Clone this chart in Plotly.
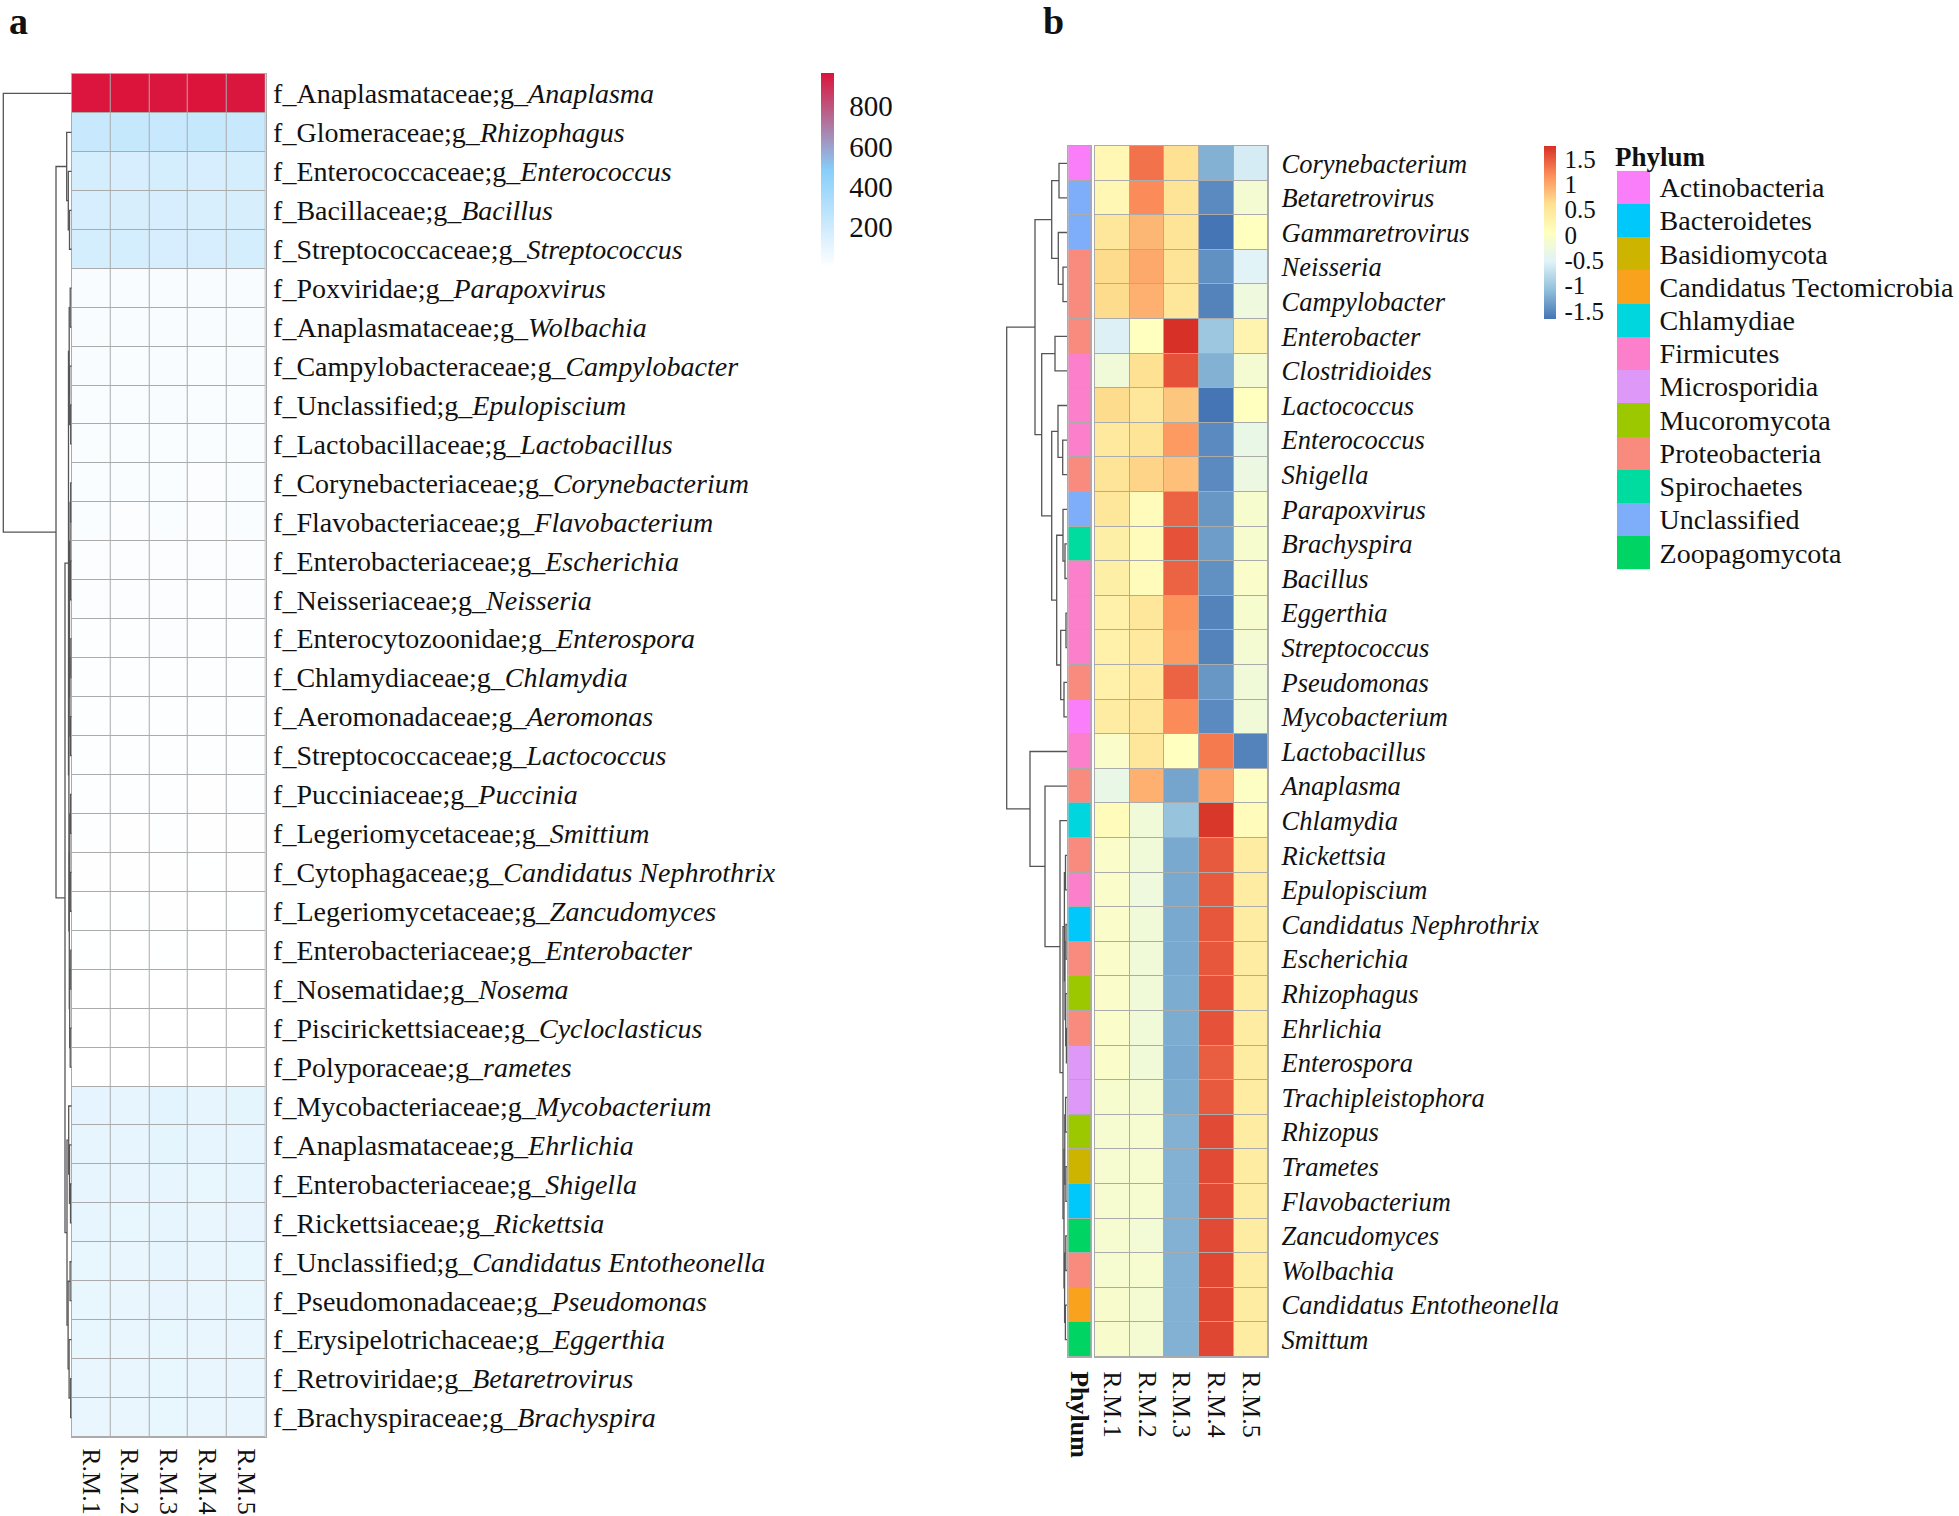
import plotly.graph_objects as go

W, H = 1959, 1516
FONT = "Liberation Serif"
TXT = "#111111"
BORDER = "#ABABAB"
DCOL = "#555555"

# ---------------- Panel a data ----------------
a_samples = ["R.M.1", "R.M.2", "R.M.3", "R.M.4", "R.M.5"]
a_family = ["Anaplasmataceae", "Glomeraceae", "Enterococcaceae", "Bacillaceae", "Streptococcaceae",
            "Poxviridae", "Anaplasmataceae", "Campylobacteraceae", "Unclassified", "Lactobacillaceae",
            "Corynebacteriaceae", "Flavobacteriaceae", "Enterobacteriaceae", "Neisseriaceae", "Enterocytozoonidae",
            "Chlamydiaceae", "Aeromonadaceae", "Streptococcaceae", "Pucciniaceae", "Legeriomycetaceae",
            "Cytophagaceae", "Legeriomycetaceae", "Enterobacteriaceae", "Nosematidae", "Piscirickettsiaceae",
            "Polyporaceae", "Mycobacteriaceae", "Anaplasmataceae", "Enterobacteriaceae", "Rickettsiaceae",
            "Unclassified", "Pseudomonadaceae", "Erysipelotrichaceae", "Retroviridae", "Brachyspiraceae"]
a_genus = ["Anaplasma", "Rhizophagus", "Enterococcus", "Bacillus", "Streptococcus",
           "Parapoxvirus", "Wolbachia", "Campylobacter", "Epulopiscium", "Lactobacillus",
           "Corynebacterium", "Flavobacterium", "Escherichia", "Neisseria", "Enterospora",
           "Chlamydia", "Aeromonas", "Lactococcus", "Puccinia", "Smittium",
           "Candidatus Nephrothrix", "Zancudomyces", "Enterobacter", "Nosema", "Cycloclasticus",
           "rametes", "Mycobacterium", "Ehrlichia", "Shigella", "Rickettsia",
           "Candidatus Entotheonella", "Pseudomonas", "Eggerthia", "Betaretrovirus", "Brachyspira"]
a_values = [
    [962, 965, 961, 964, 959],
    [228, 232, 226, 230, 225],
    [172, 168, 174, 166, 170],
    [166, 162, 168, 160, 164],
    [172, 170, 166, 168, 171],
    [32, 30, 33, 29, 31],
    [30, 28, 31, 29, 30],
    [28, 27, 30, 26, 29],
    [27, 26, 28, 25, 27],
    [25, 24, 26, 23, 25],
    [24, 22, 25, 21, 23],
    [22, 21, 23, 20, 22],
    [20, 19, 21, 18, 20],
    [19, 18, 19, 17, 18],
    [17, 16, 18, 15, 17],
    [16, 15, 16, 14, 15],
    [14, 13, 15, 12, 14],
    [13, 12, 13, 11, 12],
    [11, 10, 12, 9, 11],
    [10, 9, 10, 8, 9],
    [9, 8, 9, 7, 8],
    [7, 6, 8, 5, 7],
    [6, 5, 6, 4, 5],
    [5, 4, 5, 3, 4],
    [4, 3, 4, 3, 4],
    [3, 3, 4, 3, 3],
    [108, 104, 110, 102, 106],
    [104, 100, 106, 98, 102],
    [100, 97, 102, 95, 99],
    [98, 95, 100, 93, 97],
    [96, 93, 98, 92, 95],
    [95, 92, 97, 91, 94],
    [94, 91, 96, 90, 93],
    [93, 90, 95, 89, 92],
    [92, 89, 94, 88, 91],
]
# row dendrogram of panel a: [height, left, right]; ints are row indices
a_tree = [68.4, 0,
          [15.7,
           [5.0, 1, [3.4, 2, [2.2, 3, 4]]],
           [6.7,
            [3.2,
             [2.5, [1.5, 5, 6], [2.0, 7, [1.0, 8, 9]]],
             [2.8,
              [2.2, [1.6, [1.0, 10, 11], [1.2, 12, 13]], [1.8, [0.8, 14, 15], [1.3, 16, 17]]],
              [2.4, [1.9, [1.1, 18, 19], [1.4, 20, 21]], [2.0, [0.9, 22, 23], [1.5, 24, 25]]]]],
            [4.7,
             [3.0, 26, [2.2, 27, [1.2, 28, 29]]],
             [3.6, [1.6, 30, 31], [2.6, 32, [1.0, 33, 34]]]]]]]
a_ticks = [200, 400, 600, 800]

# ---------------- Panel b data ----------------
b_samples = ["R.M.1", "R.M.2", "R.M.3", "R.M.4", "R.M.5"]
b_genus = ["Corynebacterium", "Betaretrovirus", "Gammaretrovirus", "Neisseria", "Campylobacter",
           "Enterobacter", "Clostridioides", "Lactococcus", "Enterococcus", "Shigella",
           "Parapoxvirus", "Brachyspira", "Bacillus", "Eggerthia", "Streptococcus",
           "Pseudomonas", "Mycobacterium", "Lactobacillus", "Anaplasma", "Chlamydia",
           "Rickettsia", "Epulopiscium", "Candidatus Nephrothrix", "Escherichia", "Rhizophagus",
           "Ehrlichia", "Enterospora", "Trachipleistophora", "Rhizopus", "Trametes",
           "Flavobacterium", "Zancudomyces", "Wolbachia", "Candidatus Entotheonella", "Smittum"]
b_phylum = ["Actinobacteria", "Unclassified", "Unclassified", "Proteobacteria", "Proteobacteria",
            "Proteobacteria", "Firmicutes", "Firmicutes", "Firmicutes", "Proteobacteria",
            "Unclassified", "Spirochaetes", "Firmicutes", "Firmicutes", "Firmicutes",
            "Proteobacteria", "Actinobacteria", "Firmicutes", "Proteobacteria", "Chlamydiae",
            "Proteobacteria", "Firmicutes", "Bacteroidetes", "Proteobacteria", "Mucoromycota",
            "Proteobacteria", "Microsporidia", "Microsporidia", "Mucoromycota", "Basidiomycota",
            "Bacteroidetes", "Zoopagomycota", "Proteobacteria", "Candidatus Tectomicrobia", "Zoopagomycota"]
b_values = [
    [0.20, 1.35, 0.60, -1.20, -0.60],
    [0.20, 1.20, 0.55, -1.50, -0.15],
    [0.50, 0.90, 0.55, -1.66, 0.05],
    [0.65, 1.00, 0.55, -1.45, -0.50],
    [0.65, 0.95, 0.50, -1.55, -0.25],
    [-0.55, 0.05, 1.76, -1.00, 0.25],
    [-0.20, 0.60, 1.55, -1.20, -0.15],
    [0.65, 0.50, 0.80, -1.66, 0.05],
    [0.45, 0.55, 1.10, -1.50, -0.35],
    [0.55, 0.70, 0.85, -1.50, -0.30],
    [0.50, 0.10, 1.45, -1.40, -0.10],
    [0.35, 0.10, 1.55, -1.35, -0.10],
    [0.35, 0.10, 1.45, -1.45, -0.05],
    [0.30, 0.50, 1.15, -1.55, -0.10],
    [0.30, 0.45, 1.10, -1.55, -0.15],
    [0.30, 0.45, 1.45, -1.40, -0.20],
    [0.40, 0.50, 1.20, -1.50, -0.20],
    [-0.05, 0.50, 0.05, 1.30, -1.55],
    [-0.35, 0.95, -1.30, 1.05, 0.00],
    [0.10, -0.20, -1.05, 1.72, 0.10],
    [-0.05, -0.20, -1.26, 1.50, 0.40],
    [-0.05, -0.25, -1.26, 1.50, 0.40],
    [-0.05, -0.20, -1.26, 1.52, 0.40],
    [-0.05, -0.20, -1.26, 1.52, 0.40],
    [-0.05, -0.20, -1.24, 1.55, 0.40],
    [-0.05, -0.20, -1.24, 1.55, 0.40],
    [-0.05, -0.20, -1.26, 1.48, 0.40],
    [-0.10, -0.15, -1.24, 1.50, 0.40],
    [-0.12, -0.12, -1.20, 1.60, 0.40],
    [-0.12, -0.12, -1.20, 1.60, 0.40],
    [-0.12, -0.12, -1.20, 1.60, 0.40],
    [-0.12, -0.18, -1.20, 1.60, 0.40],
    [-0.12, -0.12, -1.20, 1.62, 0.40],
    [-0.08, -0.15, -1.20, 1.62, 0.40],
    [-0.08, -0.15, -1.20, 1.62, 0.40],
]
b_tree = [60.3,
          [32.0,
           [15.3, [8.0, 0, 1], [8.7, 2, [4.0, 3, 4]]],
           [25.3, [12.0, 5, 6],
            [15.3, [9.0, 7, [4.3, 8, 9]],
             [10.3, [4.0, 10, [2.0, 11, 12]], [6.3, [1.0, 13, 14], [3.0, 15, 16]]]]]],
          [37.0, 17,
           [22.0, 18,
            [7.0, 19,
             [4.0,
              [2.6, [1.5, 20, 21], [2.0, [1.0, 22, 23], [1.3, 24, [0.6, 25, 26]]]],
              [3.0, [2.2, [1.4, 27, 28], [1.1, 29, 30]], [2.4, [1.2, 31, 32], [1.6, 33, 34]]]]]]]]
phylum_names = ["Actinobacteria", "Bacteroidetes", "Basidiomycota", "Candidatus Tectomicrobia",
                "Chlamydiae", "Firmicutes", "Microsporidia", "Mucoromycota", "Proteobacteria",
                "Spirochaetes", "Unclassified", "Zoopagomycota"]
phylum_colors = ["#FA7EFA", "#00C8FA", "#CDB400", "#F9A21E", "#00D6DE", "#FB7FCA",
                 "#DE98F8", "#9CC800", "#F98A7E", "#00DBA0", "#7EAEFA", "#00D462"]
b_ticks = [-1.5, -1, -0.5, 0, 0.5, 1, 1.5]
b_ticktext = ["-1.5", "-1", "-0.5", "0", "0.5", "1", "1.5"]


# ---------------- helpers ----------------
def px_x(p):
    return p / W


def px_y(p):
    return 1 - p / H


def dendro(tree):
    xs, ys = [], []

    def rec(n):
        if isinstance(n, int):
            return float(n), 0.0
        h, l, r = n
        yl, hl = rec(l)
        yr, hr = rec(r)
        xs.extend([hl, h, h, hr, None])
        ys.extend([yl, yl, yr, yr, None])
        return (yl + yr) / 2, h

    rec(tree)
    return xs, ys


def discrete_scale(colors):
    n = len(colors)
    sc = []
    for i, c in enumerate(colors):
        sc.append([i / n, c])
        sc.append([(i + 1) / n, c])
    return sc


fa_rows = dict(family=FONT, size=28, color=TXT)
fa_cols = dict(family=FONT, size=26, color=TXT)
fb_rows = dict(family=FONT, size=26.5, color=TXT)
fb_cols = dict(family=FONT, size=26, color=TXT)

fig = go.Figure()

# Panel a heatmap
na = len(a_genus)
a_labels = ["f_%s;g_<i>%s</i>" % (f, g) for f, g in zip(a_family, a_genus)]
fig.add_trace(go.Heatmap(
    z=a_values, x=list(range(len(a_samples))), y=list(range(na)),
    colorscale=[[0, "#FFFFFF"], [0.5, "#87CEFA"], [1, "#DC143C"]],
    xgap=1, ygap=1, xaxis="x", yaxis="y", hoverinfo="skip",
    colorbar=dict(x=px_x(821), xanchor="left", y=px_y(73), yanchor="top",
                  len=194, lenmode="pixels", thickness=13, thicknessmode="pixels",
                  outlinewidth=0, xpad=0, ypad=0, tickvals=a_ticks,
                  ticks="outside", ticklen=10, tickcolor="rgba(0,0,0,0)",
                  tickfont=dict(family=FONT, size=29, color=TXT))))

# Panel a dendrogram
xs, ys = dendro(a_tree)
fig.add_trace(go.Scatter(x=xs, y=ys, mode="lines", line=dict(color=DCOL, width=1.3),
                         xaxis="x2", yaxis="y2", hoverinfo="skip", showlegend=False))

# Panel b heatmap
nb = len(b_genus)
fig.add_trace(go.Heatmap(
    z=b_values, x=list(range(len(b_samples))), y=list(range(nb)),
    colorscale=[[0, "#4575B4"], [1 / 6, "#91BFDB"], [2 / 6, "#E0F3F8"], [3 / 6, "#FFFFBF"],
                [4 / 6, "#FEE090"], [5 / 6, "#FC8D59"], [1, "#D73027"]],
    xgap=1, ygap=1, xaxis="x3", yaxis="y3", hoverinfo="skip",
    colorbar=dict(x=px_x(1544), xanchor="left", y=px_y(146), yanchor="top",
                  len=173, lenmode="pixels", thickness=12, thicknessmode="pixels",
                  outlinewidth=0, xpad=0, ypad=0, tickvals=b_ticks, ticktext=b_ticktext,
                  ticks="outside", ticklen=4, tickcolor="rgba(0,0,0,0)",
                  tickfont=dict(family=FONT, size=25, color=TXT))))

# Panel b phylum annotation column
ph_idx = [[phylum_names.index(p)] for p in b_phylum]
fig.add_trace(go.Heatmap(
    z=ph_idx, x=[0], y=list(range(nb)), colorscale=discrete_scale(phylum_colors),
    zmin=-0.5, zmax=len(phylum_names) - 0.5, showscale=False,
    xgap=1, ygap=1, xaxis="x4", yaxis="y4", hoverinfo="skip"))

# Panel b dendrogram
xs, ys = dendro(b_tree)
fig.add_trace(go.Scatter(x=xs, y=ys, mode="lines", line=dict(color=DCOL, width=1.3),
                         xaxis="x5", yaxis="y5", hoverinfo="skip", showlegend=False))

# Phylum legend
fig.add_trace(go.Heatmap(
    z=[[i] for i in range(len(phylum_names))], x=[0], y=list(range(len(phylum_names))),
    colorscale=discrete_scale(phylum_colors), zmin=-0.5, zmax=len(phylum_names) - 0.5,
    showscale=False, xaxis="x6", yaxis="y6", hoverinfo="skip"))


def blank_axis(**kw):
    d = dict(showgrid=False, zeroline=False, showticklabels=False, ticks="",
             showline=False, automargin=False, fixedrange=True)
    d.update(kw)
    return d


# geometry (pixels)
a_top, a_bot, a_left, a_right = 74, 1437, 71.7, 265.5
b_top, b_bot, b_left, b_right = 146, 1357, 1095, 1268.3
a_root_px, b_root_px = 3.3, 1006.7
b_leaf_px = 1067
pad = 0.03

a_h = a_tree[0]
a_ppu = (a_left - a_root_px) / a_h
b_h = b_tree[0]
b_ppu = (b_leaf_px - b_root_px) / b_h

layout = dict(
    width=W, height=H, margin=dict(l=0, r=0, t=0, b=0),
    paper_bgcolor="white", plot_bgcolor="rgba(0,0,0,0)", showlegend=False,
    xaxis=blank_axis(domain=[px_x(a_left), px_x(a_right)], range=[-0.5, 4.5],
                     showline=True, mirror=True, linecolor=BORDER, linewidth=1,
                     showticklabels=True, tickvals=list(range(5)), ticktext=a_samples,
                     tickangle=90, tickfont=fa_cols, side="bottom", anchor="y",
                     ticks="outside", ticklen=5, tickcolor="rgba(0,0,0,0)"),
    yaxis=blank_axis(domain=[px_y(a_bot), px_y(a_top)], range=[na - 0.5, -0.5],
                     showline=True, mirror=True, linecolor=BORDER, linewidth=1,
                     showticklabels=True, tickvals=list(range(na)), ticktext=a_labels,
                     tickfont=fa_rows, side="right", anchor="x",
                     ticks="outside", ticklen=1, tickcolor="rgba(0,0,0,0)"),
    xaxis2=blank_axis(domain=[px_x(a_root_px - pad * a_h * a_ppu), px_x(a_left)],
                      range=[a_h * (1 + pad), 0], anchor="y2"),
    yaxis2=blank_axis(domain=[px_y(a_bot), px_y(a_top)], range=[na - 0.5, -0.5], anchor="x2"),
    xaxis3=blank_axis(domain=[px_x(b_left), px_x(b_right)], range=[-0.5, 4.5],
                      showline=True, mirror=True, linecolor=BORDER, linewidth=1,
                      showticklabels=True, tickvals=list(range(5)), ticktext=b_samples,
                      tickangle=90, tickfont=fb_cols, side="bottom", anchor="y3",
                      ticks="outside", ticklen=8, tickcolor="rgba(0,0,0,0)"),
    yaxis3=blank_axis(domain=[px_y(b_bot), px_y(b_top)], range=[nb - 0.5, -0.5],
                      showline=True, mirror=True, linecolor=BORDER, linewidth=1,
                      showticklabels=True, tickvals=list(range(nb)),
                      ticktext=["<i>%s</i>" % g for g in b_genus],
                      tickfont=fb_rows, side="right", anchor="x3",
                      ticks="outside", ticklen=7, tickcolor="rgba(0,0,0,0)"),
    xaxis4=blank_axis(domain=[px_x(1068.3), px_x(1091)], range=[-0.5, 0.5],
                      showline=True, mirror=True, linecolor=BORDER, linewidth=1,
                      showticklabels=True, tickvals=[0], ticktext=["<b>Phylum</b>"],
                      tickangle=90, tickfont=fb_cols, side="bottom", anchor="y4",
                      ticks="outside", ticklen=8, tickcolor="rgba(0,0,0,0)"),
    yaxis4=blank_axis(domain=[px_y(b_bot), px_y(b_top)], range=[nb - 0.5, -0.5],
                      showline=True, mirror=True, linecolor=BORDER, linewidth=1, anchor="x4"),
    xaxis5=blank_axis(domain=[px_x(b_root_px - pad * b_h * b_ppu), px_x(b_leaf_px)],
                      range=[b_h * (1 + pad), 0], anchor="y5"),
    yaxis5=blank_axis(domain=[px_y(b_bot), px_y(b_top)], range=[nb - 0.5, -0.5], anchor="x5"),
    xaxis6=blank_axis(domain=[px_x(1617), px_x(1650)], range=[-0.5, 0.5], anchor="y6"),
    yaxis6=blank_axis(domain=[px_y(569.3), px_y(170.7)], range=[len(phylum_names) - 0.5, -0.5],
                      showticklabels=True, tickvals=list(range(len(phylum_names))),
                      ticktext=phylum_names, tickfont=dict(family=FONT, size=28, color=TXT),
                      side="right", anchor="x6",
                      ticks="outside", ticklen=3, tickcolor="rgba(0,0,0,0)"),
    shapes=[
        dict(type="rect", xref="x domain", yref="y domain", x0=0, x1=1, y0=0, y1=1,
             fillcolor=BORDER, line=dict(width=0), layer="below"),
        dict(type="rect", xref="x3 domain", yref="y3 domain", x0=0, x1=1, y0=0, y1=1,
             fillcolor=BORDER, line=dict(width=0), layer="below"),
        dict(type="rect", xref="x4 domain", yref="y4 domain", x0=0, x1=1, y0=0, y1=1,
             fillcolor=BORDER, line=dict(width=0), layer="below"),
    ],
    annotations=[
        dict(text="<b>a</b>", x=px_x(7), y=px_y(21), xref="paper", yref="paper",
             xanchor="left", yanchor="middle", showarrow=False,
             font=dict(family=FONT, size=38, color=TXT)),
        dict(text="<b>b</b>", x=px_x(1041), y=px_y(21), xref="paper", yref="paper",
             xanchor="left", yanchor="middle", showarrow=False,
             font=dict(family=FONT, size=38, color=TXT)),
        dict(text="<b>Phylum</b>", x=px_x(1613), y=px_y(157), xref="paper", yref="paper",
             xanchor="left", yanchor="middle", showarrow=False,
             font=dict(family=FONT, size=27, color=TXT)),
    ],
)
fig.update_layout(**layout)
fig.write_html("out.html", config={"displayModeBar": False},
               post_script="document.body.style.margin='0';document.body.style.overflow='hidden';")
